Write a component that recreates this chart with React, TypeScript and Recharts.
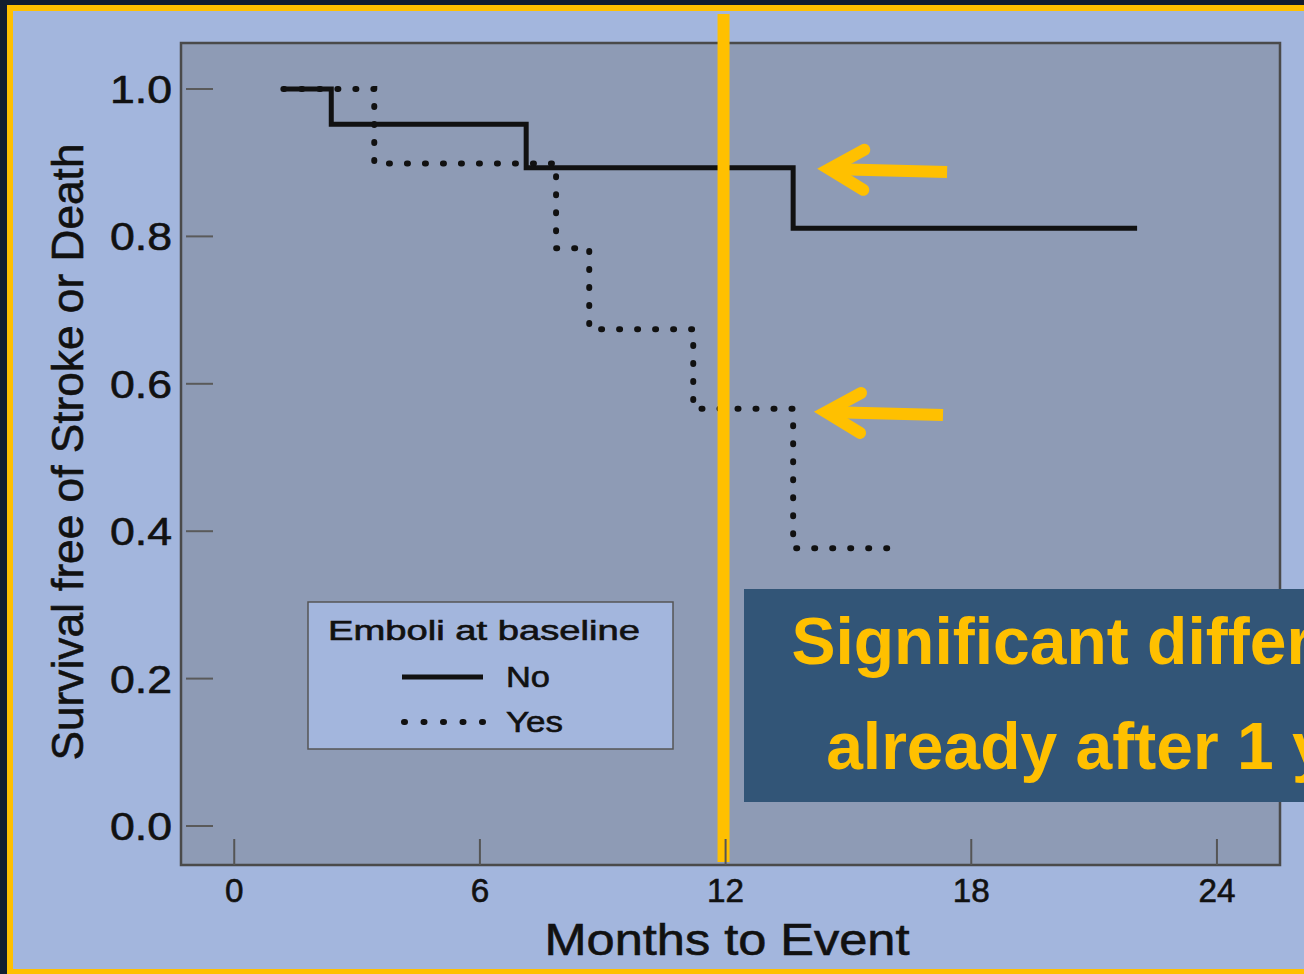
import React from "react";
import {
  Legend,
  Line,
  LineChart,
  ReferenceArea,
  ReferenceLine,
  XAxis,
  YAxis,
} from "recharts";

// Kaplan-Meier steps
const noMonths = [1.2, 2.37, 7.13, 13.65, 22.05];
const noSurvival = [1.0, 0.952, 0.893, 0.811, 0.811];
const yesMonths = [1.2, 3.42, 7.86, 8.67, 11.21, 13.65, 15.97];
const yesSurvival = [1.0, 0.899, 0.784, 0.674, 0.566, 0.377, 0.377];

const xTicks = [0, 6, 12, 18, 24];
const yTicks = [0, 0.2, 0.4, 0.6, 0.8, 1.0];
const seriesNames = ["No", "Yes"];
const legendTitle = "Emboli at baseline";
const xTitle = "Months to Event";
const yTitle = "Survival free of Stroke or Death";
const noteLines = ["Significant difference", "already after 1 year"];
const markerMonth = 11.95;
// arrows as [tail month, tail survival, head month, head survival]
const arrows = [
  [17.41, 0.8874, 14.53, 0.8915],
  [17.31, 0.5577, 14.45, 0.5617],
];

const X_DOMAIN: [number, number] = [-1.3, 25.54];
const Y_DOMAIN: [number, number] = [-0.0529, 1.0624];

const noData = noMonths.map((m, i) => ({ m, s: noSurvival[i] }));
const yesData = yesMonths.map((m, i) => ({ m, s: yesSurvival[i] }));

const FONT = "'Liberation Sans', Arial, sans-serif";
const YELLOW = "#ffc000";
const INK = "#111";
// scanned text looks a touch heavier than plain regular weight
const inkText = { fill: INK, stroke: INK, strokeWidth: 0.6, fontFamily: FONT };

function YTick({ x, y, payload }: any) {
  return (
    <g>
      <line x1={x + 14} x2={x + 41} y1={y} y2={y} stroke="#5a5a5a" strokeWidth={2} />
      <text
        x={x}
        y={y + 14}
        textAnchor="end"
        fontSize={38}
        {...inkText}
        textLength={62}
        lengthAdjust="spacingAndGlyphs"
      >
        {Number(payload.value).toFixed(1)}
      </text>
    </g>
  );
}

function XTick({ x, y, payload }: any) {
  const label = String(payload.value);
  return (
    <g>
      <line x1={x} x2={x} y1={y - 26} y2={y} stroke="#555" strokeWidth={2} />
      <text
        x={x}
        y={y + 37}
        textAnchor="middle"
        fontSize={33}
        {...inkText}
        textLength={label.length * 18.5}
        lengthAdjust="spacingAndGlyphs"
      >
        {label}
      </text>
    </g>
  );
}

function ArrowShape(props: any) {
  const { x1, y1, x2, y2 } = props;
  const dx = x1 - x2;
  const dy = y1 - y2;
  const len = Math.hypot(dx, dy) || 1;
  const ux = dx / len;
  const uy = dy / len;
  const arm = 40;
  const rot = (a: number) => [
    x2 + arm * (ux * Math.cos(a) - uy * Math.sin(a)),
    y2 + arm * (ux * Math.sin(a) + uy * Math.cos(a)),
  ];
  const [ax, ay] = rot(Math.PI / 6);
  const [bx, by] = rot(-Math.PI / 6);
  return (
    <g>
      <line x1={x1} y1={y1} x2={x2} y2={y2} stroke={YELLOW} strokeWidth={12} />
      <path
        d={`M${ax},${ay} L${x2},${y2} L${bx},${by}`}
        fill="none"
        stroke={YELLOW}
        strokeWidth={12}
        strokeLinecap="round"
        strokeLinejoin="miter"
      />
    </g>
  );
}

function LegendBox() {
  return (
    <svg width={367} height={149} style={{ display: "block" }}>
      <rect x={1} y={1} width={365} height={147} fill="#a3b6dd" stroke="#555" strokeWidth={1.5} />
      <text
        x={21}
        y={39}
        fontSize={27}
        {...inkText}
        textLength={312}
        lengthAdjust="spacingAndGlyphs"
      >
        {legendTitle}
      </text>
      <line x1={95} x2={176} y1={76} y2={76} stroke={INK} strokeWidth={5} />
      <text x={199} y={86} fontSize={29} {...inkText} textLength={44} lengthAdjust="spacingAndGlyphs">
        {seriesNames[0]}
      </text>
      <line
        x1={97}
        x2={176}
        y1={121}
        y2={121}
        stroke={INK}
        strokeWidth={6}
        strokeDasharray="1 18.5"
        strokeLinecap="round"
      />
      <text x={199} y={131} fontSize={29} {...inkText} textLength={57} lengthAdjust="spacingAndGlyphs">
        {seriesNames[1]}
      </text>
    </svg>
  );
}

export default function App() {
  return (
    <div
      style={{
        position: "fixed",
        left: 0,
        top: 0,
        width: 1304,
        height: 974,
        background: "#131e30",
        overflow: "hidden",
        fontFamily: FONT,
      }}
    >
      <div
        style={{
          position: "absolute",
          left: 7,
          top: 5,
          width: 1330,
          height: 970,
          boxSizing: "border-box",
          border: `6px solid ${YELLOW}`,
          background: "#a3b6dd",
        }}
      />
      <div style={{ position: "absolute", left: 0, top: 0 }}>
        <LineChart
          width={1304}
          height={974}
          margin={{ top: 43, right: 24, bottom: 0, left: 0 }}
        >
          <XAxis
            dataKey="m"
            type="number"
            domain={X_DOMAIN}
            ticks={xTicks}
            allowDataOverflow
            height={109}
            axisLine={false}
            tickLine={false}
            tickSize={0}
            tickMargin={0}
            tick={<XTick />}
            label={{
              content: () => (
                <text
                  x={727}
                  y={955}
                  textAnchor="middle"
                  fontSize={44}
                  {...inkText}
                  textLength={365}
                  lengthAdjust="spacingAndGlyphs"
                >
                  {xTitle}
                </text>
              ),
            }}
          />
          <YAxis
            type="number"
            domain={Y_DOMAIN}
            ticks={yTicks}
            allowDataOverflow
            width={181}
            axisLine={false}
            tickLine={false}
            tickSize={0}
            tickMargin={9}
            tick={<YTick />}
            label={{
              content: () => (
                <text
                  transform="translate(83,452) rotate(-90)"
                  textAnchor="middle"
                  fontSize={45}
                  {...inkText}
                  textLength={617}
                  lengthAdjust="spacingAndGlyphs"
                >
                  {yTitle}
                </text>
              ),
            }}
          />
          <ReferenceArea
            x1={X_DOMAIN[0]}
            x2={X_DOMAIN[1]}
            y1={Y_DOMAIN[0]}
            y2={Y_DOMAIN[1]}
            fill="#8e9bb5"
            fillOpacity={1}
            stroke="#4a4a4a"
            strokeWidth={2.5}
            ifOverflow="visible"
          />
          <Line
            data={yesData}
            dataKey="s"
            name={seriesNames[1]}
            type="stepAfter"
            stroke={INK}
            strokeWidth={6}
            strokeDasharray="1 17"
            strokeLinecap="round"
            dot={false}
            activeDot={false}
            isAnimationActive={false}
          />
          <Line
            data={noData}
            dataKey="s"
            name={seriesNames[0]}
            type="stepAfter"
            stroke={INK}
            strokeWidth={5}
            dot={false}
            activeDot={false}
            isAnimationActive={false}
          />
          <ReferenceLine
            segment={[
              { x: markerMonth, y: 1.1018 },
              { x: markerMonth, y: -0.0489 },
            ]}
            stroke={YELLOW}
            strokeWidth={12}
            ifOverflow="visible"
          />
          {arrows.map(([tx, ty, hx, hy], i) => (
            <ReferenceLine
              key={i}
              segment={[
                { x: tx, y: ty },
                { x: hx, y: hy },
              ]}
              shape={ArrowShape}
              ifOverflow="visible"
            />
          ))}
          <Legend
            layout="vertical"
            align="center"
            verticalAlign="middle"
            content={() => <LegendBox />}
            wrapperStyle={{ left: 307, top: 601, width: 367, height: 149, bottom: "auto" }}
          />
        </LineChart>
      </div>
      <div
        style={{
          position: "absolute",
          left: 744,
          top: 589,
          width: 766,
          height: 213,
          background: "#325577",
        }}
      >
        <svg width={766} height={213} style={{ display: "block" }}>
          {noteLines.map((line, i) => (
            <text
              key={i}
              x={383}
              y={75 + i * 105}
              textAnchor="middle"
              fontSize={66}
              fontWeight="bold"
              fontFamily={FONT}
              fill={YELLOW}
            >
              {line}
            </text>
          ))}
        </svg>
      </div>
    </div>
  );
}
